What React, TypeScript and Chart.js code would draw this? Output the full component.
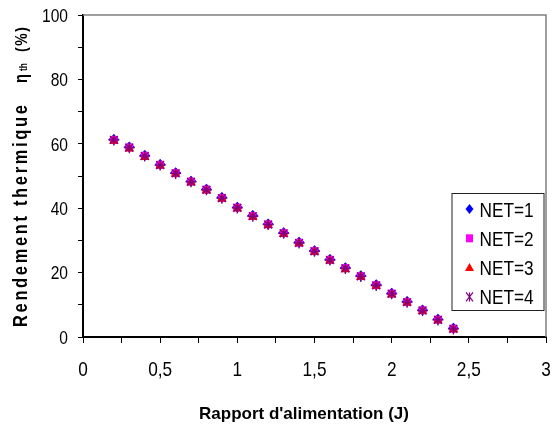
import React, { useEffect, useRef } from 'react';
import { Chart, registerables } from 'chart.js';

Chart.register(...registerables);

const xValues = [0.2, 0.3, 0.4, 0.5, 0.6, 0.7, 0.8, 0.9, 1.0, 1.1, 1.2, 1.3, 1.4, 1.5, 1.6, 1.7, 1.8, 1.9, 2.0, 2.1, 2.2, 2.3, 2.4];
const net1 = [61.3, 59.0, 56.4, 53.6, 51.0, 48.4, 45.9, 43.3, 40.3, 37.7, 35.1, 32.4, 29.4, 26.8, 24.1, 21.5, 19.0, 16.2, 13.6, 11.0, 8.4, 5.5, 2.7];
const net2 = [61.2, 58.9, 56.3, 53.5, 50.9, 48.3, 45.8, 43.2, 40.2, 37.6, 35.0, 32.3, 29.3, 26.7, 24.0, 21.4, 18.9, 16.1, 13.5, 10.9, 8.3, 5.4, 2.6];
const net3 = [60.9, 58.5, 55.8, 53.2, 50.6, 48.0, 45.5, 42.9, 39.9, 37.3, 34.7, 32.0, 29.0, 26.4, 23.7, 21.0, 18.6, 15.8, 13.2, 10.6, 8.0, 5.1, 2.3];
const net4 = [61.2, 58.8, 56.2, 53.4, 50.8, 48.2, 45.7, 43.1, 40.1, 37.5, 34.9, 32.2, 29.2, 26.6, 23.9, 21.3, 18.8, 16.0, 13.4, 10.8, 8.2, 5.3, 2.5];
const seriesLabels = ['NET=1', 'NET=2', 'NET=3', 'NET=4'];
const seriesColors = ['#0000FF', '#FF00FF', '#FF0000', '#800080'];
const xTickValues = [0, 0.25, 0.5, 0.75, 1, 1.25, 1.5, 1.75, 2, 2.25, 2.5, 2.75, 3];
const xTickLabels = ['0', '', '0,5', '', '1', '', '1,5', '', '2', '', '2,5', '', '3'];
const yTickValues = [0, 10, 20, 30, 40, 50, 60, 70, 80, 90, 100];
const yTickLabels = ['0', '', '20', '', '40', '', '60', '', '80', '', '100'];
const xTitle = "Rapport d'alimentation (J)";
const yTitleMain = 'Rendement thermique';
const yTitleEta = 'η';
const yTitleSub = 'th';
const yTitleUnit = '(%)';

const SANS = "'Liberation Sans', Arial, sans-serif";
const SQUEEZE = 0.82;

function drawMarker(ctx: CanvasRenderingContext2D, kind: number, x: number, y: number) {
  ctx.save();
  ctx.fillStyle = seriesColors[kind];
  ctx.strokeStyle = seriesColors[kind];
  ctx.beginPath();
  if (kind === 0) {
    ctx.moveTo(x, y - 5);
    ctx.lineTo(x + 4, y);
    ctx.lineTo(x, y + 5);
    ctx.lineTo(x - 4, y);
    ctx.closePath();
    ctx.fill();
  } else if (kind === 1) {
    ctx.rect(x - 3.5, y - 4, 7, 8);
    ctx.fill();
  } else if (kind === 2) {
    ctx.moveTo(x, y - 4.5);
    ctx.lineTo(x + 4.5, y + 3.5);
    ctx.lineTo(x - 4.5, y + 3.5);
    ctx.closePath();
    ctx.fill();
  } else {
    ctx.lineWidth = 1.2;
    ctx.moveTo(x - 3.5, y - 4.5);
    ctx.lineTo(x + 3.5, y + 4.5);
    ctx.moveTo(x + 3.5, y - 4.5);
    ctx.lineTo(x - 3.5, y + 4.5);
    ctx.moveTo(x, y - 4.5);
    ctx.lineTo(x, y + 4.5);
    ctx.stroke();
  }
  ctx.restore();
}

// draw text squeezed horizontally (narrow face emulation)
function narrowText(ctx: CanvasRenderingContext2D, text: string, x: number, y: number, align: 'left' | 'center' | 'right') {
  ctx.save();
  ctx.translate(x, y);
  ctx.scale(SQUEEZE, 1);
  ctx.textAlign = align;
  ctx.fillText(text, 0, 0);
  ctx.restore();
}

const decorPlugin = {
  id: 'decor',
  beforeDatasetsDraw(chart: any) {
    const { ctx, chartArea } = chart;
    ctx.save();
    ctx.strokeStyle = '#808080';
    ctx.lineWidth = 1.5;
    ctx.beginPath();
    ctx.moveTo(chartArea.left, chartArea.top);
    ctx.lineTo(chartArea.right, chartArea.top);
    ctx.lineTo(chartArea.right, chartArea.bottom);
    ctx.stroke();
    ctx.restore();
  },
  afterDraw(chart: any) {
    const { ctx, chartArea, scales } = chart;
    ctx.save();
    ctx.fillStyle = '#000';
    ctx.textBaseline = 'alphabetic';
    // tick labels
    ctx.font = `19px ${SANS}`;
    yTickValues.forEach((v, i) => {
      if (!yTickLabels[i]) return;
      const py = scales.y.getPixelForValue(v);
      narrowText(ctx, yTickLabels[i], chartArea.left - 15, py + 6.8, 'right');
    });
    ctx.font = `21px ${SANS}`;
    xTickValues.forEach((v, i) => {
      if (!xTickLabels[i]) return;
      const px = scales.x.getPixelForValue(v);
      narrowText(ctx, xTickLabels[i], px, chartArea.bottom + 38.5, 'center');
    });
    // legend
    const right = chartArea.right - 1.5;
    const left = right - 93;
    const top = 193;
    const bottom = 311;
    ctx.fillStyle = '#fff';
    ctx.fillRect(left, top, right - left, bottom - top);
    ctx.strokeStyle = '#222';
    ctx.lineWidth = 1;
    ctx.strokeRect(left + 0.5, top + 0.5, right - left - 1, bottom - top - 1);
    ctx.font = `21px ${SANS}`;
    seriesLabels.forEach((lab, i) => {
      const yy = top + 16 + i * 29.3;
      drawMarker(ctx, i, left + 18, yy);
      ctx.fillStyle = '#000';
      narrowText(ctx, lab, left + 28, yy + 7.5, 'left');
    });
    // x title
    ctx.fillStyle = '#000';
    ctx.font = `bold 17px ${SANS}`;
    ctx.textAlign = 'center';
    ctx.fillText(xTitle, 304, 419);
    // y title
    ctx.translate(27, 327);
    ctx.rotate(-Math.PI / 2);
    ctx.scale(SQUEEZE, 1);
    ctx.textAlign = 'left';
    const k = 1 / SQUEEZE;
    (ctx as any).letterSpacing = '3.3px';
    ctx.font = `bold 20px ${SANS}`;
    ctx.fillText(yTitleMain, 0, 0);
    (ctx as any).letterSpacing = '0px';
    ctx.font = `bold 18px ${SANS}`;
    ctx.fillText(yTitleEta, 244 * k, 0);
    ctx.font = `bold 10px ${SANS}`;
    ctx.fillText(yTitleSub, 256 * k, 0);
    (ctx as any).letterSpacing = '2px';
    ctx.font = `bold 17px ${SANS}`;
    ctx.fillText(yTitleUnit, 275 * k, 0);
    ctx.restore();
  },
};

export default function App() {
  const ref = useRef<HTMLCanvasElement | null>(null);
  useEffect(() => {
    const canvas = ref.current;
    if (!canvas) return;
    const series = [net1, net2, net3, net4];
    const styles = ['rectRot', 'rect', 'triangle', 'star'];
    const chart = new Chart(canvas, {
      type: 'scatter',
      data: {
        datasets: series.map((s, i) => ({
          label: seriesLabels[i],
          data: xValues.map((x, j) => ({ x, y: s[j] })),
          pointStyle: styles[i] as any,
          backgroundColor: seriesColors[i],
          borderColor: seriesColors[i],
          borderWidth: i === 3 ? 1.3 : 0,
          pointRadius: 5.5,
          order: 4 - i,
        })),
      },
      options: {
        responsive: false,
        animation: false,
        events: [],
        layout: { padding: { top: 15, right: 7, left: 0, bottom: 0 } },
        plugins: { legend: { display: false }, tooltip: { enabled: false } },
        scales: {
          x: {
            type: 'linear',
            min: 0,
            max: 3,
            afterBuildTicks: (scale: any) => {
              scale.ticks = xTickValues.map((v) => ({ value: v }));
            },
            afterFit: (scale: any) => {
              scale.height = 88;
            },
            ticks: { display: false },
            grid: { drawOnChartArea: false, drawTicks: true, tickLength: 6, color: '#000', lineWidth: 1 },
            border: { color: '#000', width: 2 },
          },
          y: {
            min: 0,
            max: 100,
            afterBuildTicks: (scale: any) => {
              scale.ticks = yTickValues.map((v) => ({ value: v }));
            },
            afterFit: (scale: any) => {
              scale.width = 83;
            },
            ticks: { display: false },
            grid: { drawOnChartArea: false, drawTicks: true, tickLength: 5, color: '#000', lineWidth: 1 },
            border: { color: '#000', width: 2 },
          },
        },
      },
      plugins: [decorPlugin],
    });
    return () => chart.destroy();
  }, []);
  return (
    <canvas
      ref={ref}
      width={553}
      height={425}
      style={{ position: 'absolute', left: 0, top: 0, width: '553px', height: '425px' }}
    />
  );
}
